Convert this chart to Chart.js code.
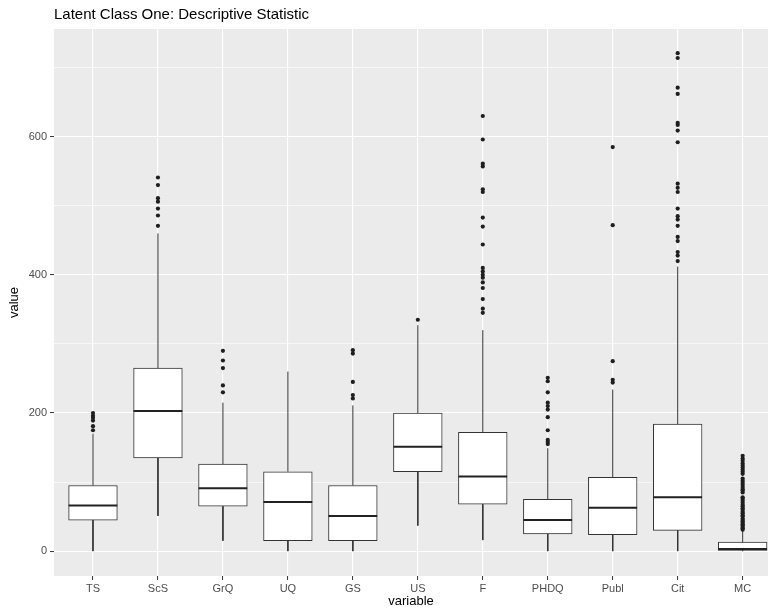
<!DOCTYPE html>
<html>
<head>
<meta charset="utf-8">
<title>Latent Class One: Descriptive Statistic</title>
<script src="https://cdn.jsdelivr.net/npm/chart.js@4.4.1/dist/chart.umd.min.js"></script>
<style>
  html, body { margin: 0; padding: 0; background: #fff; overflow: hidden; }
</style>
</head>
<body>
<canvas id="boxChart" width="768" height="609"></canvas>
<script>
// box statistics
const categories = ['TS', 'ScS', 'GrQ', 'UQ', 'GS', 'US', 'F', 'PHDQ', 'Publ', 'Cit', 'MC'];
const whiskerLow  = [0, 51, 15, 0, 0, 37, 16, 0, 0, 0, 0];
const quartile1   = [45, 135, 65, 15, 15, 115, 68, 25, 24, 30, 1];
const medians     = [66, 203, 91, 71, 51, 151, 108, 45, 63, 78, 3];
const quartile3   = [95, 265, 126, 115, 95, 200, 172, 75, 107, 184, 13];
const whiskerHigh = [170, 460, 215, 260, 211, 327, 320, 149, 234, 412, 30];

// outliers per variable
const outTS   = [175, 181, 189, 193, 196, 200];
const outScS  = [471, 486, 496, 506, 511, 530, 541];
const outGrQ  = [230, 240, 265, 276, 290];
const outUQ   = [];
const outGS   = [221, 226, 245, 286, 291];
const outUS   = [335];
const outF    = [345, 351, 365, 381, 389, 396, 400, 405, 410, 444, 470, 483, 520, 524, 557, 561, 596, 630];
const outPHDQ = [155, 158, 161, 175, 194, 205, 210, 215, 230, 246, 251];
const outPubl = [244, 248, 275, 472, 585];
const outCit  = [420, 428, 433, 449, 455, 471, 480, 485, 496, 520, 526, 532, 592, 609, 617, 620, 662, 671, 714, 721];
const outMC   = [31, 33, 35, 37, 39, 41, 43, 45, 47, 50, 52, 55, 57, 60, 62, 65, 67, 70, 73, 76, 78,
                 85, 88, 90, 93, 96, 99, 102, 105, 112, 115, 118, 121, 124, 127, 131, 134, 138];
const outliers = [outTS, outScS, outGrQ, outUQ, outGS, outUS, outF, outPHDQ, outPubl, outCit, outMC];

const yTicks = [0, 100, 200, 300, 400, 500, 600, 700];

const half = 0.375; // half box width in category units

// build datasets from the arrays
const boxData = categories.map((c, i) => ({ x: i, y: [quartile1[i], quartile3[i]] }));
const medianData = [];
const whiskerData = [];
categories.forEach((c, i) => {
  medianData.push({ x: i - half, y: medians[i] }, { x: i + half, y: medians[i] }, { x: i, y: null });
  whiskerData.push({ x: i, y: quartile3[i] }, { x: i, y: whiskerHigh[i] }, { x: i, y: null });
  whiskerData.push({ x: i, y: quartile1[i] }, { x: i, y: whiskerLow[i] }, { x: i, y: null });
});
const outlierData = [];
outliers.forEach((list, i) => list.forEach(v => outlierData.push({ x: i, y: v })));

// grey panel like ggplot
const panelBg = {
  id: 'panelBg',
  beforeDraw(chart) {
    const { ctx, chartArea: a } = chart;
    ctx.save();
    ctx.fillStyle = '#EBEBEB';
    ctx.fillRect(a.left, a.top, a.right - a.left, a.bottom - a.top);
    ctx.restore();
  }
};

const ctx = document.getElementById('boxChart').getContext('2d');
const chart = new Chart(ctx, {
  type: 'bar',
  data: {
    datasets: [
      {
        type: 'line', data: medianData, order: 1,
        borderColor: '#222', borderWidth: 2, pointRadius: 0, spanGaps: false
      },
      {
        type: 'bar', data: boxData, order: 2,
        backgroundColor: '#fff', borderColor: '#333', borderWidth: 1,
        borderSkipped: false, barThickness: 48.7
      },
      {
        type: 'line', data: whiskerData, order: 3,
        borderColor: '#333', borderWidth: 1, pointRadius: 0, spanGaps: false
      },
      {
        type: 'scatter', data: outlierData, order: 0,
        backgroundColor: '#1e1e1e', borderWidth: 0, pointRadius: 2.1
      }
    ]
  },
  options: {
    responsive: false,
    animation: false,
    layout: { autoPadding: false, padding: { left: 3, top: 0, right: 0, bottom: 0 } },
    plugins: {
      legend: { display: false },
      tooltip: { enabled: false },
      title: {
        display: true,
        text: 'Latent Class One: Descriptive Statistic',
        align: 'start',
        fullSize: false,
        color: '#000',
        font: { family: 'Liberation Sans, Arial, sans-serif', size: 15, weight: 'normal' },
        padding: { top: 6, bottom: 5 }
      }
    },
    scales: {
      x: {
        type: 'linear',
        offset: false,
        min: -0.6,
        max: 10.39,
        afterBuildTicks: s => { s.ticks = categories.map((c, i) => ({ value: i })); },
        afterFit: s => { s.height = 33; s.paddingLeft = 0; s.paddingRight = 0; },
        ticks: {
          autoSkip: false, maxRotation: 0, padding: 2,
          color: '#4D4D4D',
          font: { family: 'Liberation Sans, Arial, sans-serif', size: 11 },
          callback: v => categories[v]
        },
        grid: { offset: false, color: '#fff', lineWidth: 1.1, tickColor: '#333', tickLength: 4, tickWidth: 1 },
        border: { display: false },
        title: {
          display: true, text: 'variable', color: '#000',
          font: { family: 'Liberation Sans, Arial, sans-serif', size: 13 },
          padding: { top: 0, bottom: 0 }
        }
      },
      y: {
        min: -36,
        max: 756,
        afterBuildTicks: s => { s.ticks = yTicks.map(v => ({ value: v })); },
        afterFit: s => { s.width = 51; },
        ticks: {
          padding: 3,
          color: '#4D4D4D',
          font: { family: 'Liberation Sans, Arial, sans-serif', size: 11 },
          callback: v => (v % 200 === 0 ? v : '')
        },
        grid: {
          color: '#fff',
          lineWidth: c => (c.tick && c.tick.value % 200 === 0 ? 1.1 : 0.6),
          tickColor: c => (c.tick && c.tick.value % 200 === 0 ? '#333' : 'rgba(0,0,0,0)'),
          tickLength: 4,
          tickWidth: 1
        },
        border: { display: false },
        title: {
          display: true, text: 'value', color: '#000',
          font: { family: 'Liberation Sans, Arial, sans-serif', size: 13 },
          padding: { top: 4, bottom: 0 }
        }
      }
    }
  },
  plugins: [panelBg]
});
</script>
</body>
</html>
